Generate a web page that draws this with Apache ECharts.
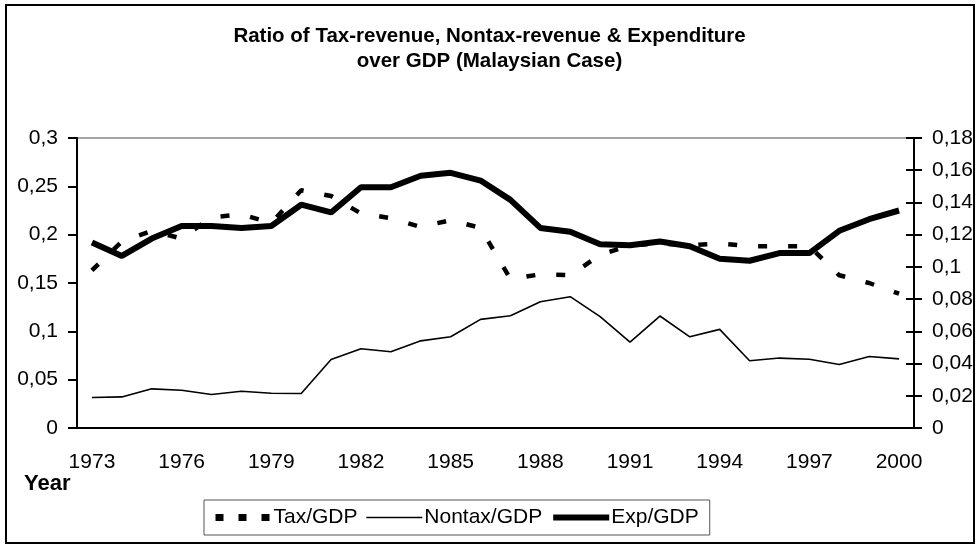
<!DOCTYPE html>
<html>
<head>
<meta charset="utf-8">
<script src="https://cdn.jsdelivr.net/npm/echarts@6/dist/echarts.min.js"></script>
<style>
    html, body { margin: 0; padding: 0; background: #fff; }
    #myChart { width: 979px; height: 548px; }
</style>
</head>
<body>
<div id="myChart"></div>
<script>
    // 年份
    var years = ['1973', '1974', '1975', '1976', '1977', '1978', '1979', '1980', '1981', '1982',
        '1983', '1984', '1985', '1986', '1987', '1988', '1989', '1990', '1991', '1992',
        '1993', '1994', '1995', '1996', '1997', '1998', '1999', '2000'];
    // 左轴
    var taxGdp = [0.163, 0.193, 0.204, 0.196, 0.218, 0.221, 0.212, 0.246, 0.240, 0.222,
        0.217, 0.208, 0.215, 0.207, 0.154, 0.159, 0.158, 0.179, 0.189, 0.191,
        0.189, 0.191, 0.188, 0.188, 0.188, 0.158, 0.150, 0.139];
    var expGdp = [0.192, 0.178, 0.196, 0.209, 0.209, 0.207, 0.209, 0.231, 0.223, 0.249,
        0.249, 0.261, 0.264, 0.256, 0.236, 0.207, 0.203, 0.190, 0.189, 0.193,
        0.188, 0.175, 0.173, 0.181, 0.181, 0.204, 0.216, 0.225];
    // 右轴
    var nontaxGdp = [0.0189, 0.0193, 0.0243, 0.0234, 0.0208, 0.0228, 0.0216, 0.0214, 0.0425, 0.0492,
        0.0473, 0.0541, 0.0566, 0.0674, 0.0697, 0.0784, 0.0815, 0.0691, 0.0533, 0.0695,
        0.0566, 0.0612, 0.0417, 0.0434, 0.0427, 0.0394, 0.0444, 0.0429];

    var font = 'Arial, "Liberation Sans", sans-serif';
    function comma(v, d) {
        return String(+v.toFixed(d)).replace('.', ',');
    }

    var myChart = echarts.init(document.getElementById('myChart'));
    var option = {
        backgroundColor: '#fff',
        animation: false,
        textStyle: { fontFamily: font, color: '#000' },
        title: [{
            text: 'Ratio of Tax-revenue, Nontax-revenue & Expenditure\nover GDP (Malaysian Case)',
            left: 'center',
            top: 19,
            textStyle: { fontSize: 20.5, fontWeight: 'bold', lineHeight: 25, color: '#000', fontFamily: font }
        }, {
            text: 'Year',
            left: 19,
            top: 468,
            textStyle: { fontSize: 22, fontWeight: 'bold', color: '#000', fontFamily: font }
        }],
        legend: {
            left: 204,
            top: 500,
            padding: [7, 11, 7, 8],
            borderColor: '#555',
            borderWidth: 1,
            itemWidth: 56,
            itemHeight: 10,
            itemGap: 8,
            itemStyle: { opacity: 0 },
            lineStyle: { width: 'inherit' },
            textStyle: { fontSize: 21, color: '#000', fontFamily: font, padding: [0, 0, 0, -3] },
            data: [
                { name: 'Tax/GDP', lineStyle: { type: [8, 15], width: 7 } },
                { name: 'Nontax/GDP' },
                { name: 'Exp/GDP' }
            ]
        },
        grid: {
            left: 77,
            right: 65,
            top: 138,
            bottom: 120,
            show: true,
            borderColor: '#888',
            borderWidth: 1.5
        },
        xAxis: {
            type: 'category',
            data: years,
            axisLine: { lineStyle: { color: '#000', width: 2 } },
            axisTick: { interval: 0, length: 7, lineStyle: { color: '#000', width: 2 } },
            axisLabel: { interval: 2, margin: 24, fontSize: 21, color: '#000', fontFamily: font },
            splitLine: { show: false }
        },
        yAxis: [{
            type: 'value',
            position: 'left',
            min: 0,
            max: 0.3,
            interval: 0.05,
            axisLine: { show: true, lineStyle: { color: '#000', width: 2 } },
            axisTick: { show: true, length: 9, lineStyle: { color: '#000', width: 2 } },
            axisLabel: { margin: 19, fontSize: 21, color: '#000', fontFamily: font,
                formatter: function (v) { return comma(v, 2); } },
            splitLine: { show: false }
        }, {
            type: 'value',
            position: 'right',
            min: 0,
            max: 0.18,
            interval: 0.02,
            axisLine: { show: true, lineStyle: { color: '#000', width: 2 } },
            axisTick: { show: true, length: 8, lineStyle: { color: '#000', width: 2 } },
            axisLabel: { margin: 18, fontSize: 21, color: '#000', fontFamily: font,
                formatter: function (v) { return comma(v, 2); } },
            splitLine: { show: false }
        }, {
            // 右轴内侧刻度
            type: 'value',
            position: 'right',
            min: 0,
            max: 0.18,
            interval: 0.02,
            axisLine: { show: false },
            axisTick: { show: true, inside: true, length: 8, lineStyle: { color: '#000', width: 2 } },
            axisLabel: { show: false },
            splitLine: { show: false }
        }],
        series: [{
            name: 'Tax/GDP',
            type: 'line',
            yAxisIndex: 0,
            symbol: 'none',
            data: taxGdp,
            lineStyle: { color: '#000', width: 4.5, type: [9, 21] },
            itemStyle: { color: '#000' }
        }, {
            name: 'Nontax/GDP',
            type: 'line',
            yAxisIndex: 1,
            symbol: 'none',
            data: nontaxGdp,
            lineStyle: { color: '#000', width: 1.6 },
            itemStyle: { color: '#000' }
        }, {
            name: 'Exp/GDP',
            type: 'line',
            yAxisIndex: 0,
            symbol: 'none',
            data: expGdp,
            lineStyle: { color: '#000', width: 6 },
            itemStyle: { color: '#000' }
        }],
        graphic: [{
            type: 'rect',
            shape: { x: 6, y: 5, width: 968, height: 538 },
            style: { fill: 'none', stroke: '#000', lineWidth: 2 },
            silent: true
        }]
    };
    myChart.setOption(option);
</script>
</body>
</html>
